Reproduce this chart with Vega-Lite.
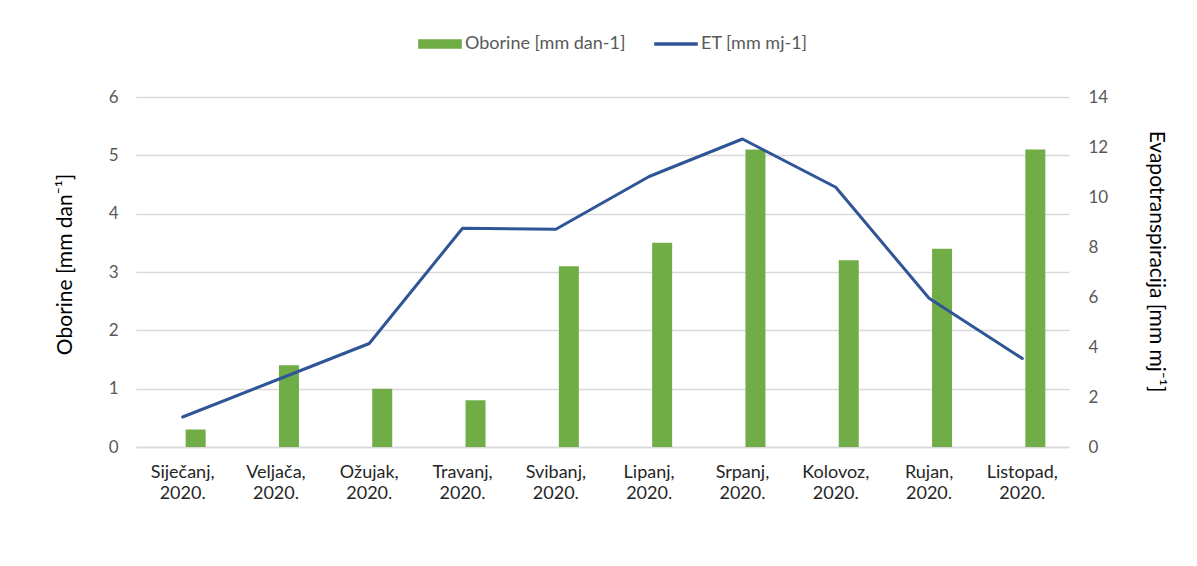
{
  "$schema": "https://vega.github.io/schema/vega-lite/v6.json",
  "width": 933,
  "height": 350,
  "autosize": "none",
  "padding": {"left": 136, "top": 97, "right": 128, "bottom": 119},
  "background": "white",
  "data": {
    "values": [
      {"mjesec": "Siječanj, 2020.", "oborine": 0.3, "et": 1.2},
      {"mjesec": "Veljača, 2020.", "oborine": 1.4, "et": 2.67},
      {"mjesec": "Ožujak, 2020.", "oborine": 1.0, "et": 4.14},
      {"mjesec": "Travanj, 2020.", "oborine": 0.8, "et": 8.75},
      {"mjesec": "Svibanj, 2020.", "oborine": 3.1, "et": 8.71},
      {"mjesec": "Lipanj, 2020.", "oborine": 3.5, "et": 10.82},
      {"mjesec": "Srpanj, 2020.", "oborine": 5.1, "et": 12.32},
      {"mjesec": "Kolovoz, 2020.", "oborine": 3.2, "et": 10.39},
      {"mjesec": "Rujan, 2020.", "oborine": 3.4, "et": 5.95},
      {"mjesec": "Listopad, 2020.", "oborine": 5.1, "et": 3.54}
    ]
  },
  "encoding": {
    "x": {
      "field": "mjesec",
      "type": "nominal",
      "sort": null,
      "scale": {"paddingInner": 0, "paddingOuter": 0},
      "axis": {
        "title": null,
        "labelAngle": 0,
        "labelExpr": "split(datum.label, ' ')",
        "labelLineHeight": 21.5,
        "labelPadding": 16,
        "labelFontSize": 18,
        "labelColor": "#262626",
        "ticks": false,
        "domain": true,
        "domainColor": "#d9d9d9",
        "domainWidth": 1.3,
        "grid": false
      }
    }
  },
  "layer": [
    {
      "mark": {"type": "bar", "width": 20, "xOffset": 13, "color": "#70ad47"},
      "encoding": {
        "y": {
          "field": "oborine",
          "type": "quantitative",
          "scale": {"domain": [0, 6]},
          "axis": {
            "title": "Oborine [mm dan⁻¹]",
            "values": [0, 1, 2, 3, 4, 5, 6],
            "labelPadding": 18,
            "titleAngle": -90,
            "titleX": -71,
            "titleY": 167,
            "titleAlign": "center",
            "titleBaseline": "middle"
          }
        },
        "color": {"datum": "Oborine [mm dan-1]"}
      }
    },
    {
      "mark": {"type": "line", "strokeWidth": 3, "strokeJoin": "round", "strokeCap": "round"},
      "encoding": {
        "y": {
          "field": "et",
          "type": "quantitative",
          "scale": {"domain": [0, 14]},
          "axis": {
            "orient": "right",
            "title": "Evapotranspiracija [mm mj⁻¹]",
            "values": [0, 2, 4, 6, 8, 10, 12, 14],
            "grid": false,
            "labelPadding": 19,
            "titleAngle": 90,
            "titleX": 86,
            "titleY": 164,
            "titleAlign": "center",
            "titleBaseline": "middle"
          }
        },
        "color": {
          "datum": "ET [mm mj-1]",
          "legend": {
            "encode": {
              "symbols": {
                "update": {
                  "shape": {"signal": "datum.value === 'ET [mm mj-1]' ? 'M-1,-0.075H1V0.075H-1Z' : 'M-1,-0.22H1V0.22H-1Z'"},
                  "fill": {"signal": "datum.value === 'ET [mm mj-1]' ? '#2f5597' : '#70ad47'"},
                  "stroke": {"value": "transparent"},
                  "strokeWidth": {"value": 0},
                  "opacity": {"value": 1},
                  "size": {"value": 1900}
                }
              }
            }
          }
        }
      }
    }
  ],
  "resolve": {"scale": {"y": "independent"}},
  "config": {
    "font": "Lato",
    "view": {"stroke": null},
    "range": {"category": ["#70ad47", "#2f5597"]},
    "axis": {
      "labelFont": "Lato",
      "titleFont": "Lato",
      "labelFontSize": 17,
      "labelColor": "#595959",
      "titleFontSize": 21,
      "titleFontWeight": "normal",
      "titleColor": "#000000",
      "gridColor": "#d9d9d9",
      "gridWidth": 1.3,
      "domain": false,
      "ticks": false
    },
    "legend": {
      "orient": "none",
      "legendX": 282,
      "legendY": -75,
      "direction": "horizontal",
      "title": null,
      "padding": 0,
      "labelFontSize": 18,
      "labelLimit": 400,
      "labelColor": "#595959",
      "labelOffset": 3,
      "columnPadding": 28,
      "symbolSize": 1900,
      "symbolStrokeWidth": 0,
      "symbolOpacity": 1
    }
  }
}
